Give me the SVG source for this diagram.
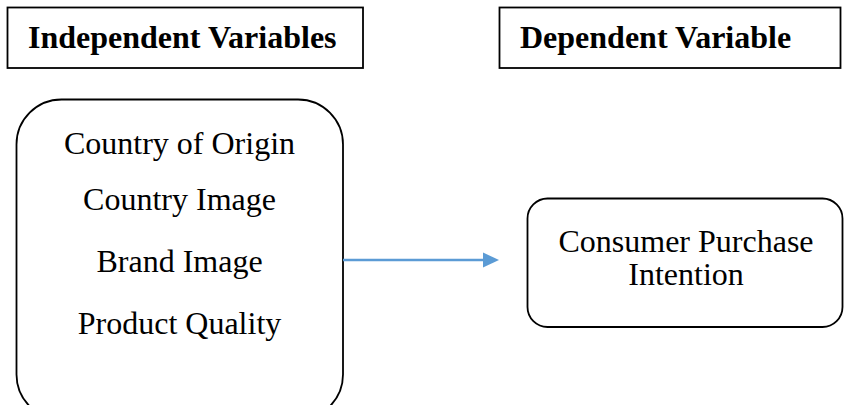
<svg xmlns="http://www.w3.org/2000/svg" width="844" height="405" viewBox="0 0 844 405">
  <defs>
    <style>
      .frame { fill: #ffffff; stroke: #000000; stroke-width: 1.8; }
      text { font-family: 'Liberation Serif', 'Times New Roman', serif; font-size: 32px; fill: #000000; }
      .head { font-weight: bold; }
      .item { text-anchor: middle; }
      .link { stroke: #5B9BD5; stroke-width: 2.5; fill: none; }
    </style>
    <marker id="arrow" markerWidth="16" markerHeight="16" refX="0" refY="8" orient="auto" markerUnits="userSpaceOnUse" viewBox="0 0 16 16">
      <path d="M0,0.5 L16,8 L0,15.5 Z" fill="#5B9BD5"/>
    </marker>
  </defs>
  <rect width="844" height="405" fill="#ffffff"/>

  <!-- column headings -->
  <g id="header-independent">
    <rect class="frame" x="7.5" y="7.5" width="355.5" height="60.5"/>
    <text class="head" x="28" y="48">Independent Variables</text>
  </g>

  <g id="header-dependent">
    <rect class="frame" x="499.5" y="7.5" width="341" height="60.5"/>
    <text class="head" x="520" y="48">Dependent Variable</text>
  </g>

  <!-- variable boxes -->
  <g id="independent-variables">
    <rect class="frame" x="16.5" y="99.5" width="326.5" height="320" rx="45" ry="45"/>
    <text class="item" x="179.5" y="154">Country of Origin</text>
    <text class="item" x="179.5" y="210">Country Image</text>
    <text class="item" x="179.5" y="272">Brand Image</text>
    <text class="item" x="179.5" y="334">Product Quality</text>
  </g>

  <g id="dependent-variable">
    <rect class="frame" x="527.5" y="198.5" width="315" height="128.5" rx="20" ry="20"/>
    <text class="item" x="686" y="252" font-size="33">Consumer Purchase</text>
    <text class="item" x="686" y="285" font-size="33">Intention</text>
  </g>

  <!-- connector -->
  <g id="connectors">
    <path class="link" d="M343,260 H483" marker-end="url(#arrow)"/>
  </g>
</svg>
